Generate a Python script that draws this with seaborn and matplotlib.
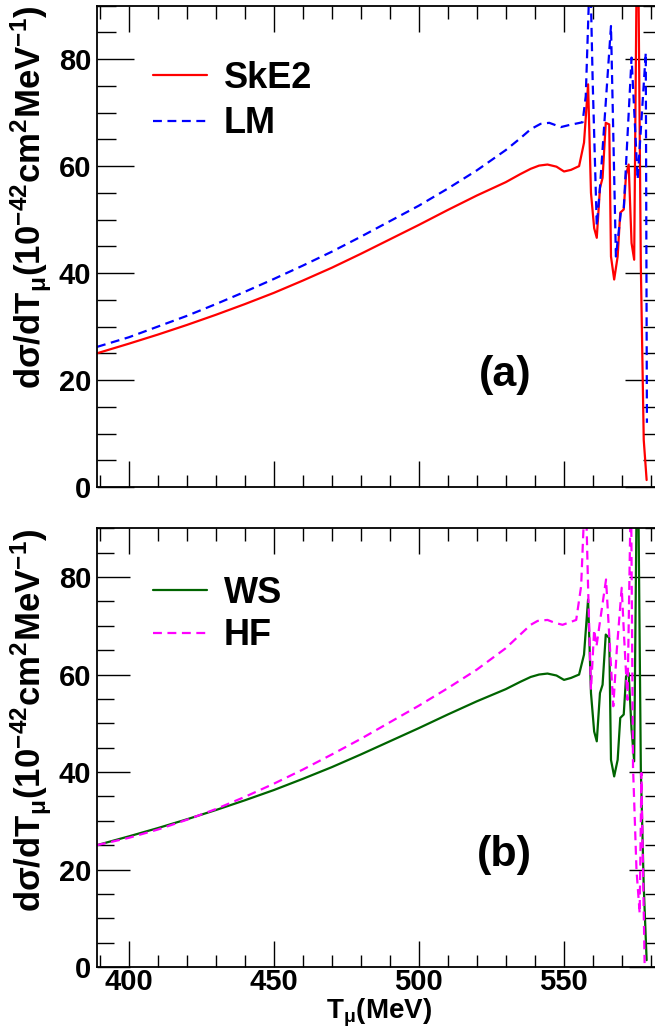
import numpy as np
import matplotlib
matplotlib.use("Agg")
import matplotlib.pyplot as plt
import seaborn as sns

# ---------------- data ----------------
t_ske2 = [389, 400, 410, 420, 430, 440, 450, 460, 470, 480, 490, 500, 510, 520, 530, 535,
          538.6, 541.5, 544.4, 547.5, 550.1, 552.5, 555.3, 557.0, 558.4, 559.4, 560.5, 561.4,
          562.5, 563.4, 564.5, 565.7, 566.3, 567.4, 568.6, 569.5, 570.7, 571.5, 572.4, 573.4,
          574.3, 575.45, 576.6, 577.6, 578.6]
v_ske2 = [25.0, 26.8, 28.5, 30.3, 32.2, 34.2, 36.3, 38.6, 41.0, 43.6, 46.3, 49.0, 51.8, 54.5, 57.0, 58.5,
          59.5, 60.1, 60.3, 59.9, 59.0, 59.3, 60.0, 64.4, 75.3, 55.0, 48.4, 46.6,
          55.9, 57.8, 68.1, 67.8, 43.1, 38.8, 43.1, 51.3, 51.9, 58.4, 60.3, 45.6,
          42.5, 115.0, 41.3, 8.8, 1.3]

t_lm = [389, 400, 410, 420, 430, 440, 450, 460, 470, 480, 490, 500, 510, 520, 530, 535,
        538.6, 542.0, 545.0, 547.0, 549.0, 552.0, 556.5, 557.6, 559.1, 560.0, 561.4, 562.5,
        566.3, 568.0, 569.7, 570.7, 573.4, 575.5, 578.3, 578.7]
v_lm = [26.2, 28.0, 30.0, 32.0, 34.2, 36.5, 38.9, 41.4, 44.0, 46.8, 49.7, 52.6, 55.8, 59.2, 63.0, 65.2,
        66.9, 67.9, 68.1, 67.7, 67.3, 67.7, 68.2, 73.1, 98.0, 75.6, 48.8, 56.0,
        86.2, 43.1, 51.3, 52.0, 80.3, 57.5, 81.2, 12.0]

t_ws = t_ske2
v_ws = [25.0, 26.8, 28.5, 30.3, 32.2, 34.2, 36.3, 38.6, 41.0, 43.6, 46.3, 49.0, 51.8, 54.5, 57.0, 58.5,
        59.5, 60.0, 60.2, 59.8, 58.9, 59.3, 60.0, 64.1, 75.4, 56.2, 48.3, 46.3,
        56.2, 57.9, 68.2, 67.5, 42.5, 39.1, 42.5, 51.1, 51.8, 59.6, 60.3, 48.7,
        42.2, 115.0, 40.5, 16.5, 1.4]

t_hf = [389, 400, 410, 420, 430, 440, 450, 460, 470, 480, 490, 500, 510, 520, 530, 535,
        538.6, 541.0, 544.4, 547.0, 549.6, 552.0, 554.3, 556.0, 557.5, 558.4, 559.4, 560.5,
        561.3, 562.3, 564.6, 567.1, 568.3, 570.0, 570.8, 572.0, 573.2, 573.9, 575.1, 576.2,
        576.8, 577.9]
v_hf = [25.0, 26.5, 28.2, 30.2, 32.4, 34.9, 37.6, 40.5, 43.6, 46.8, 50.2, 53.6, 57.2, 61.0, 65.4, 68.2,
        70.2, 71.0, 71.2, 70.6, 70.2, 70.7, 71.2, 78.1, 100.0, 78.0, 56.9, 69.2,
        65.8, 70.0, 79.5, 53.5, 65.0, 77.8, 68.0, 54.8, 100.0, 41.1, 19.9, 11.0,
        39.8, 0.8]

y_ticks = [0, 20, 40, 60, 80]
x_ticks = [400, 450, 500, 550]
panel_labels = ["(a)", "(b)"]

# ---------------- style ----------------
sns.set_theme(style="ticks")
plt.rcParams["font.family"] = ["Liberation Sans", "DejaVu Sans"]
plt.rcParams["font.weight"] = "bold"
plt.rcParams["mathtext.fontset"] = "custom"
plt.rcParams["mathtext.rm"] = "Liberation Sans:bold"
plt.rcParams["mathtext.it"] = "Liberation Sans:bold"
plt.rcParams["mathtext.bf"] = "Liberation Sans:bold"
for k in ["text.color", "axes.labelcolor", "xtick.color", "ytick.color",
          "xtick.labelcolor", "ytick.labelcolor", "axes.edgecolor"]:
    plt.rcParams[k] = "black"

W, H = 655, 1029
fig = plt.figure(figsize=(W / 100, H / 100), dpi=100)

def px_axes(left, top, right, bottom):
    return fig.add_axes([left / W, 1 - bottom / H, (right - left) / W, (bottom - top) / H])

ax1 = px_axes(96.7, 5.7, 662, 487)
ax2 = px_axes(96.7, 528.3, 662, 967)

XLIM = (388.9, 583.9)
YLIM = (0, 90)

def style_axis(ax, major_len, minor_len):
    ax.set_xlim(*XLIM)
    ax.set_ylim(*YLIM)
    ax.set_xticks(x_ticks)
    ax.set_xticks(np.arange(390, 590, 10), minor=True)
    ax.set_yticks(y_ticks)
    ax.set_yticks(np.arange(0, 91, 5), minor=True)
    ax.tick_params(axis="both", which="both", direction="in", top=True, right=True,
                   width=1.0, color="black", labelcolor="black")
    ax.tick_params(axis="y", which="major", length=major_len, pad=4, labelsize=21)
    ax.tick_params(axis="y", which="minor", length=minor_len)
    ax.tick_params(axis="x", which="major", length=19, pad=1, labelsize=21)
    ax.tick_params(axis="x", which="minor", length=9)
    for s in ax.spines.values():
        s.set_linewidth(1.3)
        s.set_color("black")
    for lab in ax.get_xticklabels() + ax.get_yticklabels():
        lab.set_fontweight("bold")
    ax.set_ylabel(r"d$\sigma$/dT$_{\mu}$(10$^{-42}$cm$^{2}$MeV$^{-1}$)", fontsize=25,
                  fontweight="bold", loc="top", color="black")
    ax.yaxis.set_label_coords(-0.076, 1.0)

dash = (0, (4, 2.5))

sns.lineplot(x=t_ske2, y=v_ske2, ax=ax1, color="#ff0000", linewidth=1.6, sort=False,
             estimator=None, label="SkE2")
sns.lineplot(x=t_lm, y=v_lm, ax=ax1, color="#0000ff", linewidth=1.6, sort=False,
             estimator=None, label="LM", linestyle=dash)
sns.lineplot(x=t_ws, y=v_ws, ax=ax2, color="#006400", linewidth=1.6, sort=False,
             estimator=None, label="WS")
sns.lineplot(x=t_hf, y=v_hf, ax=ax2, color="#ff00ff", linewidth=1.6, sort=False,
             estimator=None, label="HF", linestyle=dash)

style_axis(ax1, 26.5, 13.5)
style_axis(ax2, 24, 12)
ax1.set_xticklabels([])
ax1.set_xlabel("")
ax2.set_xlabel(r"T$_{\mu}$(MeV)", fontsize=20, fontweight="bold", color="black")
ax2.xaxis.set_label_coords(0.5, -0.067)

for ax, lab, anchor_y, spacing in zip((ax1, ax2), panel_labels, (0.885, 0.891), (0.28, 0.2)):
    leg = ax.legend(loc="upper left", bbox_to_anchor=(0.1, anchor_y), frameon=False,
                    fontsize=26, handlelength=1.5, handletextpad=0.45, labelspacing=spacing,
                    borderpad=0, borderaxespad=0)
    for t in leg.get_texts():
        t.set_fontweight("bold")
        t.set_color("black")
    ax.text(0.722, 0.233 if lab == "(a)" else 0.255, lab, transform=ax.transAxes,
            fontsize=31, fontweight="bold", ha="center", va="center", color="black")

fig.savefig("out.png", dpi=100)
